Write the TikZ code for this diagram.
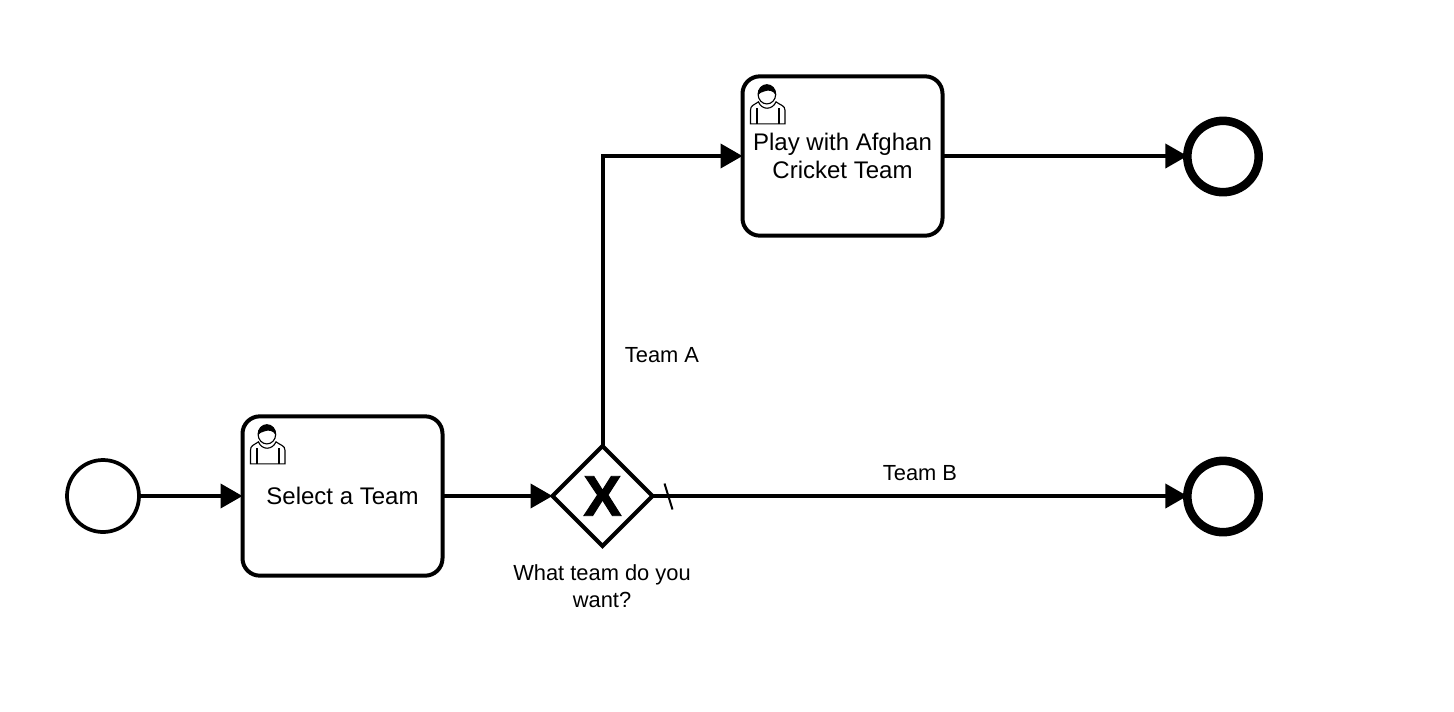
\documentclass[tikz,border=0pt]{standalone}
\usepackage{fontspec}
\setmainfont{Liberation Sans}
\newfontfamily\gatefont[FakeBold=1.6]{Liberation Sans Bold}
\usetikzlibrary{arrows.meta,shapes.geometric}
\tikzset{
  every node/.style={outer sep=0pt,inner sep=0pt},
  startev/.style={circle,draw,line width=2.8pt,fill=white,minimum size=54pt},
  endev/.style={circle,draw,line width=6.4pt,fill=white,minimum size=53.5pt},
  taskbox/.style={rectangle,rounded corners=13pt,draw,line width=3pt,fill=white,minimum width=150pt,minimum height=119.5pt,align=center,font=\fontsize{18pt}{21.6pt}\selectfont},
  gate/.style={diamond,aspect=1,draw,line width=3pt,fill=white,minimum size=75pt,font=\fontsize{43pt}{43pt}\gatefont},
  flow/.style={line width=3pt,-{Triangle[length=16.5pt,width=18pt]}},
  lbl/.style={align=center,font=\fontsize{16.4pt}{20.2pt}\selectfont},
  usericon/.pic={
    \begin{scope}[line width=0.85pt]
      \draw[fill=white] (8,47.5) -- (8,34) .. controls (8,29) and (11,29) .. (16,25.5)
        .. controls (19,34) and (30,34) .. (33.5,25.5) .. controls (38,29) and (42.5,29) .. (42.5,34) -- (42.5,47.5) -- cycle;
      \draw (14.5,32) -- (14.5,47.5) (36.5,32) -- (36.5,47.5);
      \draw[fill=white] (24.4,18) circle[x radius=8.8,y radius=9.6];
      \fill (15.6,19) .. controls (14.5,5) and (34.3,5) .. (33.2,19) .. controls (31,14) and (26,13.5) .. (22,15) .. controls (19,15.5) and (17,17) .. (15.6,19) -- cycle;
    \end{scope}
  }
}
\begin{document}
\begin{tikzpicture}[x=0.75pt,y=-0.75pt]
\useasboundingbox[fill=white] (0,0) rectangle (1454,711);
\node[startev] (start) at (103,496) {};
\node[taskbox] (select) at (342.5,496) {Select a Team};
\node[gate] (choice) at (602.5,496) {X};
\node[taskbox] (play) at (842.5,156) {Play with Afghan\\Cricket Team};
\node[endev] (endA) at (1223,156.5) {};
\node[endev] (endB) at (1223,496.5) {};
\pic at (select.north west) {usericon};
\pic at (play.north west) {usericon};
\coordinate (bend) at (choice.north |- play.west);
\draw[flow] (start.east) -- (select.west);
\draw[flow] (select.east) -- (choice.west);
\draw[flow] (choice.north) -- (bend) -- (play.west);
\draw[flow] (play.east) -- (endA.west |- play.east);
\draw[flow] (choice.east) -- (endB.west |- choice.east);
\coordinate (slashA) at (664.5,483.5);
\coordinate (slashB) at (672.5,509.5);
\draw[line width=1.5pt] (slashA) -- (slashB);
\node[lbl] (labA) at (662,355) {Team A};
\node[lbl] (labB) at (920,473) {Team B};
\node[lbl] (labG) at (602,586) {What team do you\\want?};
\end{tikzpicture}
\end{document}
